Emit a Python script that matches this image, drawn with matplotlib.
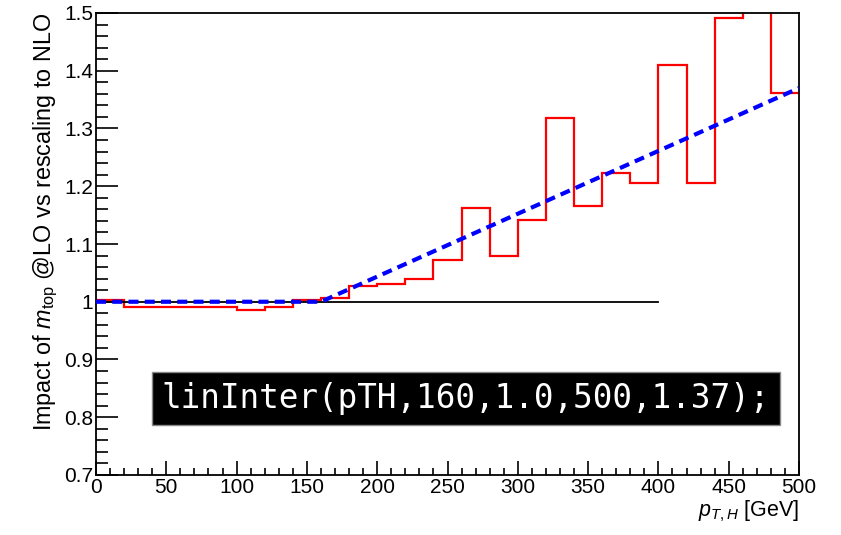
import matplotlib
matplotlib.use("Agg")
import matplotlib.pyplot as plt
import numpy as np
from matplotlib.ticker import MultipleLocator, FuncFormatter

# Data
bin_edges = list(range(0, 520, 20))
ratio_values = [1.003, 0.991, 0.991, 0.991, 0.991, 0.986, 0.991, 1.003,
                1.006, 1.027, 1.031, 1.039, 1.072, 1.162, 1.079, 1.142,
                1.318, 1.165, 1.223, 1.206, 1.410, 1.206, 1.491, 1.502,
                1.362]
interp_x = [0, 160, 500]
interp_y = [1.0, 1.0, 1.37]
ref_x = [0, 400]
ref_y = [1.0, 1.0]
box_text = "linInter(pTH,160,1.0,500,1.37);"

plt.rcParams['font.family'] = ['Liberation Sans', 'DejaVu Sans']
plt.rcParams['mathtext.fontset'] = 'custom'
plt.rcParams['mathtext.it'] = 'Liberation Sans:italic'
plt.rcParams['mathtext.rm'] = 'Liberation Sans'

fig = plt.figure(figsize=(8.41, 5.35), dpi=100)
ax = fig.add_axes([96/841, 60/535, (799-96)/841, (475-13)/535])

ax.stairs(ratio_values, bin_edges, color='red', linewidth=1.6, baseline=None)
ax.plot(interp_x, interp_y, color='blue', linewidth=3.0, linestyle=(0, (2.4, 1.5)), zorder=3)
ax.plot(ref_x, ref_y, color='black', linewidth=1.3, zorder=2)

ax.set_xlim(0, 500)
ax.set_ylim(0.7, 1.5)
ax.xaxis.set_major_locator(MultipleLocator(50))
ax.xaxis.set_minor_locator(MultipleLocator(10))
ax.yaxis.set_major_locator(MultipleLocator(0.1))
ax.yaxis.set_minor_locator(MultipleLocator(0.02))
ax.yaxis.set_major_formatter(FuncFormatter(lambda v, p: ("%g" % round(v, 2))))

ax.tick_params(axis='both', which='both', direction='in', top=False, right=False,
               labelsize=15, width=1.2)
ax.tick_params(axis='y', which='major', length=16, pad=2)
ax.tick_params(axis='y', which='minor', length=8.5)
ax.tick_params(axis='x', which='major', length=10, pad=2)
ax.tick_params(axis='x', which='minor', length=5)
for s in ax.spines.values():
    s.set_linewidth(1.3)

ax.set_ylabel(r"Impact of $m_{\mathrm{top}}$ @LO vs rescaling to NLO", fontsize=16.8,
              loc='top', labelpad=3)
ax.set_xlabel(r"$p_{T,H}$ [GeV]", fontsize=15.5, loc='right', labelpad=1)

ax.text(0.526, 0.165, box_text, transform=ax.transAxes, ha='center', va='center',
        fontsize=23.5, color='white', family='DejaVu Sans Mono',
        bbox=dict(boxstyle='square,pad=0.3', facecolor='black', edgecolor='#888888'))

fig.savefig("out.png", dpi=100)
